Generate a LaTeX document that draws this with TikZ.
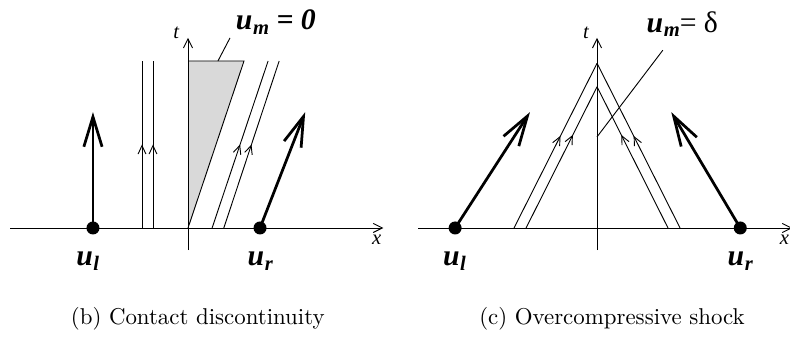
\documentclass[tikz,border=0pt]{standalone}
\usepackage{fontspec}
\newfontfamily\timesfont{Liberation Serif}
\usetikzlibrary{arrows.meta,decorations.markings}
\newcommand\uvar[1]{u\kern.02em\raisebox{-.35ex}{\fontsize{9}{10}\selectfont #1}}
\tikzset{
  axis/.style={line width=.4pt,-{Straight Barb[length=1.4mm,width=1.4mm]}},
  wave/.style={line width=.4pt,postaction={decorate},
    decoration={markings,mark=at position #1 with {\arrow{Straight Barb[length=1.3mm,width=1.2mm]}}}},
  wave/.default=.5,
  vec/.style={line width=1.2pt,-{Straight Barb[length=4.6mm,width=2.8mm,line width=1.2pt]}},
  state/.style={circle,fill,inner sep=0pt,minimum size=2mm},
  varlab/.style={font=\timesfont\bfseries\itshape\fontsize{13}{14}\selectfont},
  axlab/.style={font=\timesfont\itshape\fontsize{9}{10}\selectfont},
}
\begin{document}
\begin{tikzpicture}
    \useasboundingbox (-2.888,-1.674) rectangle (9.247,3.502);
    % contact discontinuity
    \begin{scope}
        \fill[black!15] (0,0) -- (0,2.565) -- (.86,2.565) -- cycle;
        \draw[line width=.4pt] (0,0) -- (.86,2.565) -- (0,2.565);
        \draw[axis] (-2.73,0) -- (3.0,0);
        \draw[axis] (0,-.34) -- (0,2.92);
        \node[axlab] (tb) at (-.18,3.0) {t};
        \node[axlab] (xb) at (2.9,-.18) {x};
        \draw[wave=.5] (-.707,0) -- (-.707,2.565);
        \draw[wave=.5] (-.538,0) -- (-.538,2.565);
        \draw[wave=.5] (.37,0) -- (1.23,2.565);
        \draw[wave=.5] (.55,0) -- (1.40,2.565);
        \node[state] (ulb) at (-1.46,0) {};
        \node[state] (urb) at (1.106,0) {};
        \coordinate (ulbtip) at (-1.46,1.78);
        \coordinate (urbtip) at (1.80,1.78);
        \draw[vec] (ulb.center) -- (ulbtip);
        \draw[vec] (urb.center) -- (urbtip);
        \node[varlab] (ulblab) at (-1.54,-.51) {\uvar{l}};
        \node[varlab] (urblab) at (1.11,-.51) {\uvar{r}};
        \coordinate (umb) at (.46,2.565);
        \node[varlab] (umblab) at (1.35,3.16) {\uvar{m} = 0};
        \coordinate (umbend) at (.645,2.92);
        \draw[line width=.4pt] (umb) -- (umbend);
        \node (capb) at (.15,-1.40) {(b) Contact discontinuity};
    \end{scope}
    % overcompressive shock
    \begin{scope}[xshift=6.283cm]
        \draw[axis] (-2.75,0) -- (3.0,0);
        \draw[axis] (0,-.34) -- (0,2.92);
        \node[axlab] (tc) at (-.17,3.0) {t};
        \node[axlab] (xc) at (2.88,-.18) {x};
        \draw[wave=.56] (-1.275,0) -- (0,2.53);
        \draw[wave=.66] (-1.09,0) -- (0,2.17);
        \draw[wave=.56] (1.275,0) -- (0,2.53);
        \draw[wave=.66] (1.09,0) -- (0,2.17);
        \node[state] (ulc) at (-2.18,0) {};
        \node[state] (urc) at (2.20,0) {};
        \coordinate (ulctip) at (-1.03,1.78);
        \coordinate (urctip) at (1.14,1.78);
        \draw[vec] (ulc.center) -- (ulctip);
        \draw[vec] (urc.center) -- (urctip);
        \node[varlab] (ulclab) at (-2.19,-.51) {\uvar{l}};
        \node[varlab] (urclab) at (2.20,-.51) {\uvar{r}};
        \coordinate (umc) at (0,1.40);
        \coordinate (umcend) at (1.01,2.73);
        \draw[line width=.4pt] (umc) -- (umcend);
        \node[varlab] (umclab) at (1.31,3.13) {\uvar{m}{\mdseries\upshape= δ}};
        \node (capc) at (.23,-1.40) {(c) Overcompressive shock};
    \end{scope}
\end{tikzpicture}
\end{document}
